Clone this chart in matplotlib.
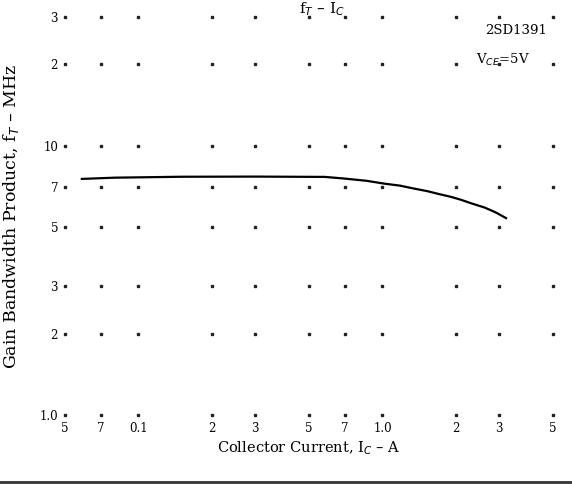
import numpy as np
import matplotlib.pyplot as plt
from matplotlib.lines import Line2D

# fT - IC curve, 2SD1391, VCE = 5V
ic_amps = [0.0586, 0.08, 0.15, 0.3, 0.58, 0.69, 0.86, 1.02, 1.18, 1.33, 1.53,
           1.7, 1.91, 2.1, 2.33, 2.62, 2.91, 3.21]
ft_mhz = [7.52, 7.6, 7.66, 7.67, 7.65, 7.55, 7.4, 7.22, 7.1, 6.94, 6.77,
          6.61, 6.45, 6.29, 6.09, 5.89, 5.65, 5.38]

x_ticks = [0.05, 0.07, 0.1, 0.2, 0.3, 0.5, 0.7, 1.0, 2, 3, 5]
x_labels = ["5", "7", "0.1", "2", "3", "5", "7", "1.0", "2", "3", "5"]
y_ticks = [1, 2, 3, 5, 7, 10, 20, 30]
y_labels = ["1.0", "2", "3", "5", "7", "10", "2", "3"]

plt.rcParams['font.family'] = ['DejaVu Serif']

fig = plt.figure(figsize=(5.72, 4.84), dpi=100)
ax = fig.add_axes([65 / 572, 1 - 415 / 484, (553 - 65) / 572, (415 - 17) / 484])

ax.set_xscale('log')
ax.set_yscale('log')
ax.set_xlim(0.05, 5)
ax.set_ylim(1, 30)

# grid drawn as dots at the intersections, like the scanned sheet
gx, gy = np.meshgrid(x_ticks, y_ticks)
ax.plot(gx.ravel(), gy.ravel(), ls='none', marker='s', ms=1.5, color='#222222',
        clip_on=False)

ax.plot(ic_amps, ft_mhz, color='black', lw=1.6)

for s in ax.spines.values():
    s.set_visible(False)
ax.minorticks_off()
ax.set_xticks(x_ticks)
ax.set_xticklabels(x_labels)
ax.set_yticks(y_ticks)
ax.set_yticklabels(y_labels)
ax.tick_params(length=0, labelsize=8.5, pad=5)

ax.set_xlabel(r"Collector Current, I$_C$ – A", fontsize=10.5, labelpad=3)
ax.set_ylabel(r"Gain Bandwidth Product, f$_T$ – MHz", fontsize=12.5)
ax.yaxis.set_label_coords(-0.09, 0.5)

fig.text(322 / 572, 1.0, r"f$_T$ – I$_C$", fontsize=11, ha='center', va='top')
fig.text(547 / 572, 1 - 31 / 484, "2SD1391", fontsize=9.5, ha='right', va='center')
fig.text(530 / 572, 1 - 60 / 484, r"V$_{CE}$=5V", fontsize=9.5, ha='right', va='center')

fig.add_artist(Line2D([0, 1], [2 / 484, 2 / 484], color='#333333', lw=2))

fig.savefig("out.png", dpi=100)
